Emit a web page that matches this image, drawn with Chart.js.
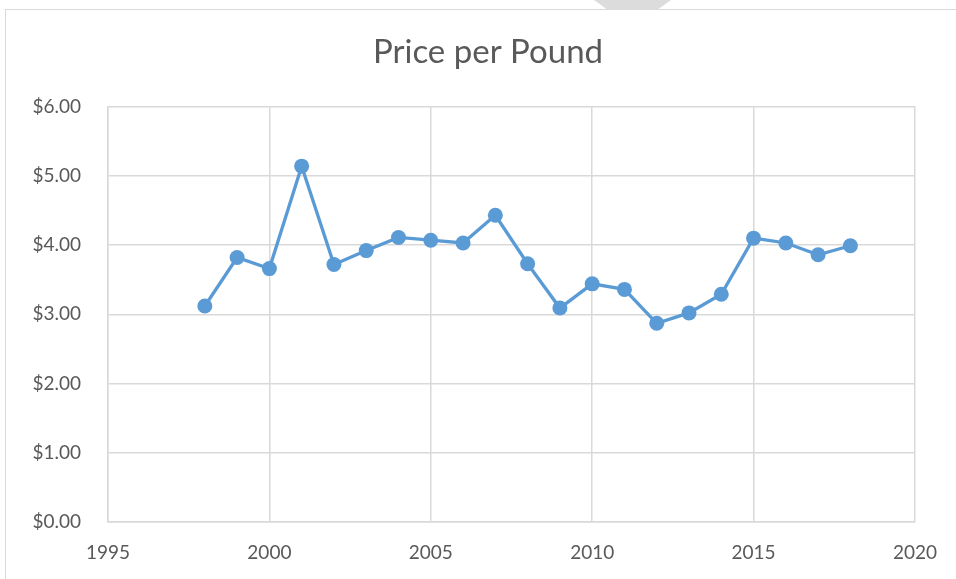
<!DOCTYPE html>
<html>
<head>
<meta charset="utf-8">
<script src="https://cdn.jsdelivr.net/npm/chart.js@4/dist/chart.umd.min.js"></script>
<style>
  html, body { margin: 0; padding: 0; background: #fff; }
  #wrap { position: relative; width: 956px; height: 579px; overflow: hidden; }
  #frame {
    position: absolute; left: 5px; top: 9px; width: 1000px; height: 620px;
    border: 1px solid #d9d9d9; box-sizing: border-box;
  }
  #tab {
    position: absolute; left: 594px; top: 0; width: 77px; height: 10px;
    background: #dcdcdc;
    clip-path: polygon(0 0, 100% 0, 82% 100%, 18% 100%);
  }
  canvas { position: absolute; left: 0; top: 0; }
</style>
</head>
<body>
<div id="wrap">
  <div id="frame"></div>
  <div id="tab"></div>
  <canvas id="priceChart" width="956" height="579"></canvas>
</div>
<script>
  // 年ごとの価格（ドル/ポンド）
  const years = [1998, 1999, 2000, 2001, 2002, 2003, 2004, 2005, 2006, 2007,
                 2008, 2009, 2010, 2011, 2012, 2013, 2014, 2015, 2016, 2017, 2018]
  const prices = [3.12, 3.82, 3.66, 5.14, 3.72, 3.92, 4.11, 4.07, 4.03, 4.43,
                  3.73, 3.09, 3.44, 3.36, 2.87, 3.02, 3.29, 4.10, 4.03, 3.86, 3.99]

  const xMin = 1995, xMax = 2020, xStep = 5
  const yMin = 0, yMax = 6, yStep = 1

  const gray = '#595959'
  const gridColor = '#d9d9d9'
  const lineColor = '#5b9bd5'
  const fontFamily = 'Lato, "Noto Sans", sans-serif'

  const ctx = document.getElementById('priceChart')

  new Chart(ctx, {
    type: 'line',
    data: {
      datasets: [{
        label: 'Price per Pound',
        data: years.map((y, i) => ({ x: y, y: prices[i] })),
        borderColor: lineColor,
        backgroundColor: lineColor,
        borderWidth: 3.3,
        pointRadius: 7.5,
        pointBorderWidth: 0,
        pointBackgroundColor: lineColor,
        tension: 0,
        fill: false
      }]
    },
    options: {
      responsive: false,
      animation: false,
      // 左の余白はタイトルの中心位置合わせ用
      layout: { padding: { left: 20, right: 0, top: 0, bottom: 0 } },
      plugins: {
        legend: { display: false },
        tooltip: { enabled: false },
        title: {
          display: true,
          text: 'Price per Pound',
          color: gray,
          font: { family: fontFamily, size: 33, weight: 'normal' },
          padding: { top: 33, bottom: 34 }
        }
      },
      scales: {
        x: {
          type: 'linear',
          min: xMin,
          max: xMax,
          ticks: {
            stepSize: xStep,
            color: gray,
            padding: 19,
            font: { family: fontFamily, size: 19 },
            callback: v => String(v)
          },
          grid: { color: gridColor, lineWidth: 1.5, drawTicks: false },
          border: { color: gridColor, width: 1.5 },
          afterFit: scale => { scale.height = 57 }
        },
        y: {
          min: yMin,
          max: yMax,
          ticks: {
            stepSize: yStep,
            color: gray,
            padding: 27,
            font: { family: fontFamily, size: 19 },
            callback: v => '$' + Number(v).toFixed(2)
          },
          grid: { color: gridColor, lineWidth: 1.5, drawTicks: false },
          border: { color: gridColor, width: 1.5 },
          afterFit: scale => { scale.width = 88 }
        },
        // 右側の余白を確保するための空の軸
        yRight: {
          position: 'right',
          display: true,
          min: yMin,
          max: yMax,
          ticks: { display: false },
          grid: { display: false, drawTicks: false },
          border: { display: false },
          afterFit: scale => { scale.width = 41 }
        }
      }
    }
  })
</script>
</body>
</html>
